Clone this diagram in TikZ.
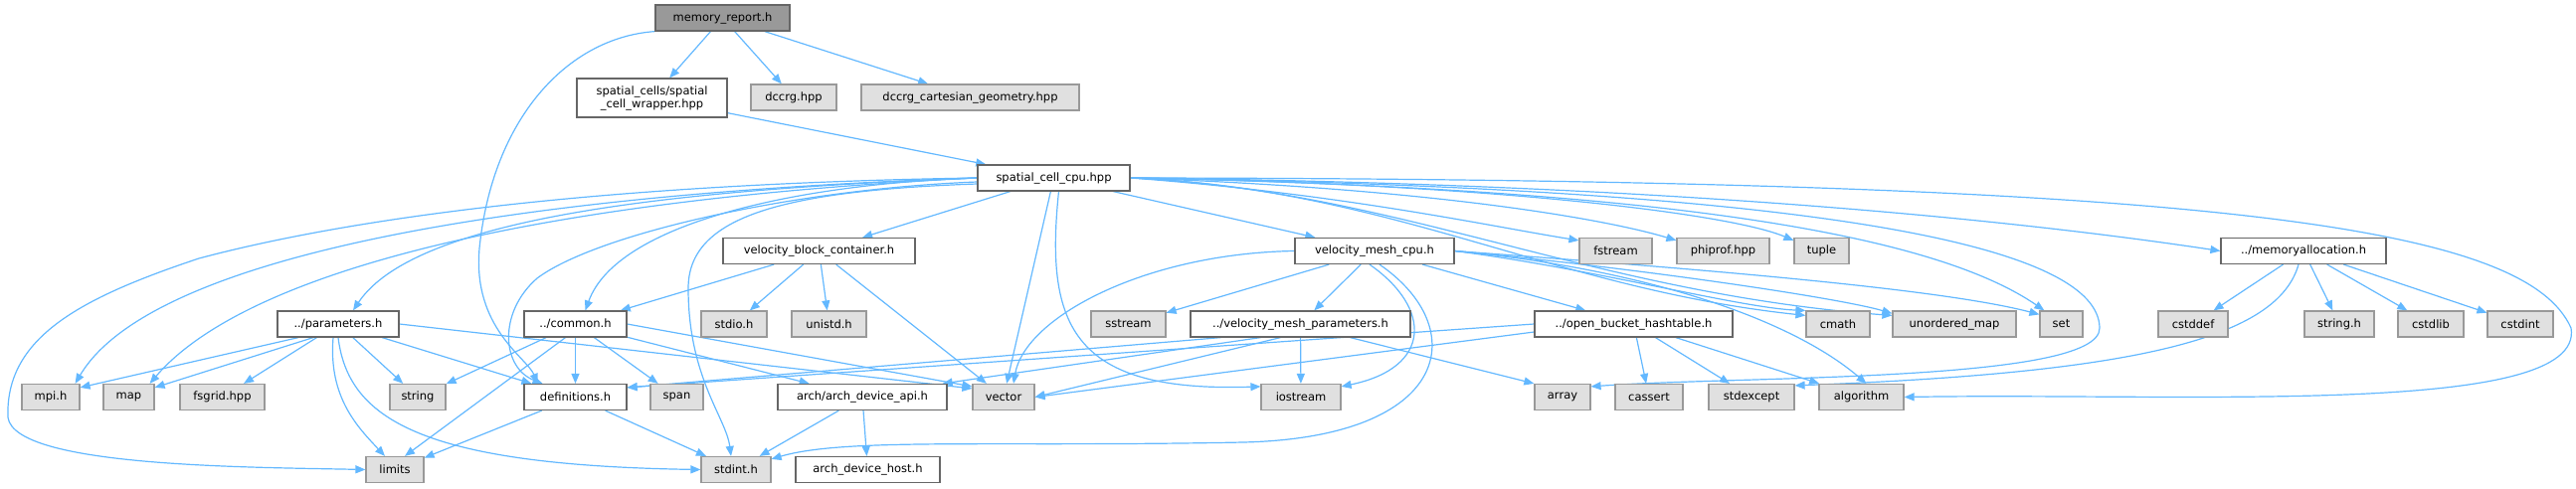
\documentclass[tikz,border=0pt]{standalone}
\usepackage{fontspec}
\setmainfont{DejaVu Sans}
\usetikzlibrary{arrows.meta,backgrounds}
\definecolor{edgeblue}{HTML}{63B8FF}
\definecolor{rootgray}{HTML}{999999}
\definecolor{darkframe}{HTML}{666666}
\definecolor{sysgray}{HTML}{E0E0E0}
\begin{document}
\begin{tikzpicture}[x=1pt, y=-1pt,
    hdr/.style={draw=darkframe, line width=1.2pt, fill=white, minimum height=26pt,
        inner sep=2pt, font=\fontsize{11.5}{13}\selectfont},
    root/.style={hdr, fill=rootgray},
    sys/.style={hdr, draw=rootgray, fill=sysgray},
    inc/.style={draw=edgeblue, line width=1.2pt, -{Triangle[length=10pt, width=8pt]}}]
\useasboundingbox (0,0) rectangle (2590,491);
% top
\node[root, minimum width=135pt] (mr) at (726.5,18) {memory\_report.h};
\node[hdr, minimum width=151pt, minimum height=39pt, align=center] (wrapper) at (655.5,98.5) {spatial\_cells/spatial\\\_cell\_wrapper.hpp};
\node[sys, minimum width=86pt] (dccrg) at (798,98) {dccrg.hpp};
\node[sys, minimum width=219pt] (geom) at (975.5,98) {dccrg\_cartesian\_geometry.hpp};
\node[hdr, minimum width=153pt] (scc) at (1059.5,179) {spatial\_cell\_cpu.hpp};
% row 1
\node[hdr, minimum width=193pt] (vbc) at (823.5,252.5) {velocity\_block\_container.h};
\node[hdr, minimum width=160pt] (vmc) at (1382,252.5) {velocity\_mesh\_cpu.h};
\node[sys, minimum width=73pt] (fstream) at (1624.5,252.5) {fstream};
\node[sys, minimum width=93pt] (phiprof) at (1732.5,252.5) {phiprof.hpp};
\node[sys, minimum width=55pt] (tuple) at (1831.5,252.5) {tuple};
\node[hdr, minimum width=166pt] (memalloc) at (2316,252.5) {../memoryallocation.h};
% row 2
\node[hdr, minimum width=122pt] (params) at (340,326) {../parameters.h};
\node[hdr, minimum width=103pt] (common) at (578.5,326) {../common.h};
\node[sys, minimum width=66pt] (stdio) at (738,326) {stdio.h};
\node[sys, minimum width=75pt] (unistd) at (833.5,326) {unistd.h};
\node[sys, minimum width=75pt] (sstream) at (1134.5,326) {sstream};
\node[hdr, minimum width=221pt] (vmp) at (1307.5,326) {../velocity\_mesh\_parameters.h};
\node[hdr, minimum width=199pt] (obh) at (1642.5,326) {../open\_bucket\_hashtable.h};
\node[sys, minimum width=64pt] (cmath) at (1848,326) {cmath};
\node[sys, minimum width=124pt] (umap) at (1965,326) {unordered\_map};
\node[sys, minimum width=43pt] (set) at (2072.5,326) {set};
\node[sys, minimum width=70pt] (cstddef) at (2205,326) {cstddef};
\node[sys, minimum width=70pt] (stringh) at (2352,326) {string.h};
\node[sys, minimum width=66pt] (cstdlib) at (2444,326) {cstdlib};
\node[sys, minimum width=66pt] (cstdint) at (2534,326) {cstdint};
% row 3
\node[sys, minimum width=58pt] (mpi) at (51,399.5) {mpi.h};
\node[sys, minimum width=51pt] (map) at (129.5,399.5) {map};
\node[sys, minimum width=85pt] (fsgrid) at (223.5,399.5) {fsgrid.hpp};
\node[sys, minimum width=56pt] (string) at (420,399.5) {string};
\node[hdr, minimum width=103pt] (defs) at (578.5,399.5) {definitions.h};
\node[sys, minimum width=53pt] (span) at (680.5,399.5) {span};
\node[hdr, minimum width=170pt] (archapi) at (867,399.5) {arch/arch\_device\_api.h};
\node[sys, minimum width=62pt] (vector) at (1009,399.5) {vector};
\node[sys, minimum width=80pt] (iostream) at (1308,399.5) {iostream};
\node[sys, minimum width=56pt] (array) at (1571,399.5) {array};
\node[sys, minimum width=68pt] (cassert) at (1658,399.5) {cassert};
\node[sys, minimum width=86pt] (stdexcept) at (1761,399.5) {stdexcept};
\node[sys, minimum width=85pt] (algorithm) at (1871.5,399.5) {algorithm};
% row 4
\node[sys, minimum width=58pt] (limits) at (397,472.5) {limits};
\node[sys, minimum width=70pt] (stdint) at (740,472.5) {stdint.h};
\node[hdr, minimum width=145pt] (archhost) at (872.5,472.5) {arch\_device\_host.h};

\begin{pgfonlayer}{background}
% memory_report.h
\draw[inc] (mr) -- (wrapper);
\draw[inc] (mr) -- (dccrg);
\draw[inc] (mr) -- (geom);
\draw[inc] (mr.south west) .. controls (570,38) and (495,120) .. (482,250)
    .. controls (475,330) and (530,360) .. ([xshift=-38pt]defs.north);
\draw[inc] (wrapper) -- (scc);

% spatial_cell_cpu.hpp
\draw[inc] (scc) -- (vbc);
\draw[inc] (scc) -- (vmc);
\draw[inc] (scc) -- (vector);
\draw[inc] (scc.east) .. controls (1350,195) and (1500,228) .. ([yshift=-3pt]fstream.north west);
\draw[inc] (scc.east) .. controls (1450,190) and (1620,222) .. ([yshift=-3pt]phiprof.north west);
\draw[inc] (scc.east) .. controls (1500,185) and (1740,215) .. ([yshift=-3pt]tuple.north west);
\draw[inc] (scc.east) .. controls (1700,185) and (2050,225) .. (memalloc.west);
\draw[inc] (scc.west) .. controls (700,190) and (420,215) .. ([xshift=15pt]params.north);
\draw[inc] (scc.west) .. controls (800,185) and (620,225) .. ([xshift=10pt]common.north);
\draw[inc] ([yshift=-4pt]scc.west) .. controls (800,190) and (600,235) .. (540,280)
    .. controls (500,315) and (505,370) .. ([xshift=-33pt]defs.north);
\draw[inc] (scc.west) .. controls (500,195) and (150,260) .. ([xshift=-5pt]mpi.north east);
\draw[inc] (scc.west) .. controls (550,200) and (250,270) .. ([xshift=-5pt]map.north east);
\draw[inc] (scc.west) .. controls (600,185) and (350,220) .. (200,260)
    .. controls (80,300) and (5,340) .. (8,420) .. controls (15,470) and (250,470) .. (limits.west);
\draw[inc] ([yshift=-6pt]scc.west) .. controls (780,192) and (692,220) .. (692,290)
    .. controls (692,380) and (730,420) .. ([xshift=-5pt]stdint.north);
\draw[inc] ([xshift=5pt]scc.south) .. controls (1050,330) and (1080,395) .. ([yshift=-3pt]iostream.north west);
\draw[inc] (scc.east) .. controls (1400,190) and (1560,290) .. ([yshift=-5pt]cmath.north west);
\draw[inc] (scc.east) .. controls (1400,190) and (1600,295) .. ([yshift=-5pt]umap.north west);
\draw[inc] (scc.east) .. controls (1700,190) and (1950,240) .. ([xshift=5pt]set.north west);
\draw[inc] (scc.east) .. controls (1850,190) and (2110,250) .. (2111,330)
    .. controls (2112,385) and (1750,378) .. ([yshift=-3pt]array.north east);
\draw[inc] (scc.east) .. controls (2250,180) and (2540,230) .. (2585,330)
    .. controls (2600,420) and (2200,395) .. (algorithm.east);

% velocity_block_container.h
\draw[inc] (vbc) -- (common);
\draw[inc] (vbc) -- (stdio);
\draw[inc] (vbc) -- (unistd);
\draw[inc] (vbc) -- (vector);

% velocity_mesh_cpu.h
\draw[inc] (vmc) -- (sstream);
\draw[inc] (vmc) -- (vmp);
\draw[inc] (vmc) -- (obh);
\draw[inc] ([xshift=-5pt]vmc.south) .. controls (1440,310) and (1440,370) .. ([yshift=-3pt]iostream.north east);
\draw[inc] ([xshift=5pt]vmc.south) .. controls (1480,330) and (1460,440) .. (1250,445)
    .. controls (1000,450) and (850,440) .. ([yshift=-3pt]stdint.north east);
\draw[inc] (vmc.west) .. controls (1150,255) and (1030,320) .. ([xshift=10pt]vector.north);
\draw[inc] (vmc.east) .. controls (1600,270) and (1750,310) .. (cmath.north west);
\draw[inc] (vmc.east) .. controls (1650,270) and (1850,300) .. ([yshift=-3pt]umap.north west);
\draw[inc] (vmc.east) .. controls (1700,270) and (1950,290) .. ([yshift=-4pt]set.north west);
\draw[inc] (vmc.east) .. controls (1650,270) and (1800,320) .. ([xshift=5pt]algorithm.north);

% ../parameters.h
\draw[inc] ([xshift=-40pt]params.south) -- ([yshift=-4pt]mpi.north east);
\draw[inc] ([xshift=-25pt]params.south) -- ([yshift=-4pt]map.north east);
\draw[inc] (params) -- (fsgrid);
\draw[inc] (params) -- (string);
\draw[inc] (params) -- (defs);
\draw[inc] (params.east) -- ([yshift=-5pt]vector.north west);
\draw[inc] ([xshift=-5pt]params.south) .. controls (330,400) and (360,430) .. ([xshift=-10pt]limits.north);
\draw[inc] (params.south) .. controls (350,420) and (420,468) .. (stdint.west);

% ../common.h
\draw[inc] (common) -- (string);
\draw[inc] (common) -- (defs);
\draw[inc] (common) -- (span);
\draw[inc] (common) -- (archapi);
\draw[inc] (common.east) -- ([yshift=-3pt]vector.north west);
\draw[inc] ([xshift=-10pt]common.south) -- ([xshift=10pt]limits.north);

% definitions.h, arch_device_api.h
\draw[inc] (defs) -- (limits);
\draw[inc] (defs) -- (stdint);
\draw[inc] (archapi) -- (stdint);
\draw[inc] (archapi) -- (archhost);

% ../velocity_mesh_parameters.h
\draw[inc] ([xshift=-80pt]vmp.south) -- ([yshift=-4pt]defs.north east);
\draw[inc] ([xshift=-40pt]vmp.south) -- ([xshift=-5pt]archapi.north east);
\draw[inc] ([xshift=-20pt]vmp.south) -- (vector.east);
\draw[inc] (vmp) -- (iostream);
\draw[inc] ([xshift=50pt]vmp.south) -- (array.north west);

% ../open_bucket_hashtable.h
\draw[inc] (obh.west) -- ([yshift=-4pt]defs.north east);
\draw[inc] ([yshift=-8pt]obh.west) -- (vector.east);
\draw[inc] (obh) -- (cassert);
\draw[inc] (obh) -- (stdexcept);
\draw[inc] (obh) -- (algorithm);

% ../memoryallocation.h
\draw[inc] (memalloc) -- (cstddef);
\draw[inc] (memalloc) -- (stringh);
\draw[inc] (memalloc) -- (cstdlib);
\draw[inc] (memalloc) -- (cstdint);
\draw[inc] ([xshift=-5pt]memalloc.south) .. controls (2290,340) and (2150,375) .. ([yshift=-2pt]stdexcept.north east);
\end{pgfonlayer}
\end{tikzpicture}
\end{document}
